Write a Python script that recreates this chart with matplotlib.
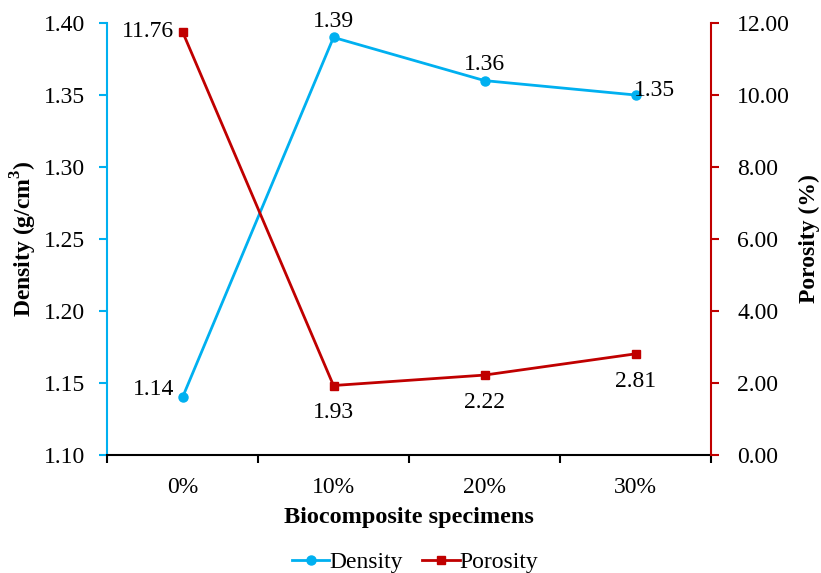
import matplotlib
matplotlib.use("Agg")
import matplotlib.pyplot as plt

categories = ["0%", "10%", "20%", "30%"]
density = [1.14, 1.39, 1.36, 1.35]
porosity = [11.76, 1.93, 2.22, 2.81]

BLUE = "#00B0F0"
RED = "#C00000"
plt.rcParams['font.family'] = ['Liberation Serif', 'DejaVu Serif']
plt.rcParams['mathtext.fontset'] = 'custom'
plt.rcParams['mathtext.bf'] = 'Liberation Serif:bold'

fig = plt.figure(figsize=(8.21, 5.73), dpi=100)
ax = fig.add_axes([107/821, 1 - 455/573, (711-107)/821, (455-23)/573])
ax2 = ax.twinx()

x = list(range(len(categories)))
l1, = ax.plot(x, density, color=BLUE, lw=2, marker='o', ms=6.5, label='Density')
l2, = ax2.plot(x, porosity, color=RED, lw=2, marker='s', ms=6, label='Porosity')

ax.set_xlim(-0.5, 3.5)
ax.set_ylim(1.10, 1.40)
dt = [1.10, 1.15, 1.20, 1.25, 1.30, 1.35, 1.40]
ax.set_yticks(dt)
ax.set_yticklabels([f"{v:.2f}" for v in dt])
ax2.set_ylim(0, 12)
pt = [0, 2, 4, 6, 8, 10, 12]
ax2.set_yticks(pt)
ax2.set_yticklabels([f"{v:.2f}" for v in pt])

ax.set_xticks([-0.5, 0.5, 1.5, 2.5, 3.5])
ax.set_xticklabels([])
ax.set_xticks(x, minor=True)
ax.set_xticklabels(categories, minor=True)
ax.tick_params(axis='x', which='major', direction='out', length=6, width=1.5, color='black')
ax.tick_params(axis='x', which='minor', length=0, labelsize=17, pad=16)

for a in (ax, ax2):
    a.spines['top'].set_visible(False)
ax.spines['bottom'].set_linewidth(1.5)
ax.spines['left'].set_color(BLUE)
ax.spines['left'].set_linewidth(1.5)
ax.spines['right'].set_visible(False)
ax2.spines['left'].set_visible(False)
ax2.spines['bottom'].set_visible(False)
ax2.spines['right'].set_color(RED)
ax2.spines['right'].set_linewidth(1.5)
ax.tick_params(axis='y', colors=BLUE, labelcolor='black', labelsize=17, length=6, width=1.5, pad=10)
ax2.tick_params(axis='y', colors=RED, labelcolor='black', labelsize=17, length=6, width=1.5, pad=13)

ax.set_xlabel("Biocomposite specimens", fontsize=17.5, fontweight='bold', labelpad=6)
ax.set_ylabel("Density (g/cm$^\\mathbf{3}$)", fontsize=17, fontweight='bold', labelpad=3)
ax2.set_ylabel("Porosity (%)", fontsize=17, fontweight='bold', labelpad=6)

# data labels
fs = 17
ax.annotate(f"{density[0]:.2f}", (x[0], density[0]), xytext=(-6, 6), textcoords='offset points', ha='right', va='center', fontsize=fs)
ax.annotate(f"{density[1]:.2f}", (x[1], density[1]), xytext=(0, 4), textcoords='offset points', ha='center', va='bottom', fontsize=fs)
ax.annotate(f"{density[2]:.2f}", (x[2], density[2]), xytext=(0, 4), textcoords='offset points', ha='center', va='bottom', fontsize=fs)
ax.annotate(f"{density[3]:.2f}", (x[3], density[3]), xytext=(-1, 3), textcoords='offset points', ha='left', va='center', fontsize=fs)
ax2.annotate(f"{porosity[0]:.2f}", (x[0], porosity[0]), xytext=(-6, 0), textcoords='offset points', ha='right', va='center', fontsize=fs)
for i in (1, 2, 3):
    ax2.annotate(f"{porosity[i]:.2f}", (x[i], porosity[i]), xytext=(0, -12), textcoords='offset points', ha='center', va='top', fontsize=fs)

fig.legend([l1, l2], ['Density', 'Porosity'], loc='center', bbox_to_anchor=(415/821, 1 - 562/573),
           ncol=2, frameon=False, fontsize=17, handlelength=1.6, handletextpad=0.0, columnspacing=0.8)

fig.savefig("out.png", dpi=100)
